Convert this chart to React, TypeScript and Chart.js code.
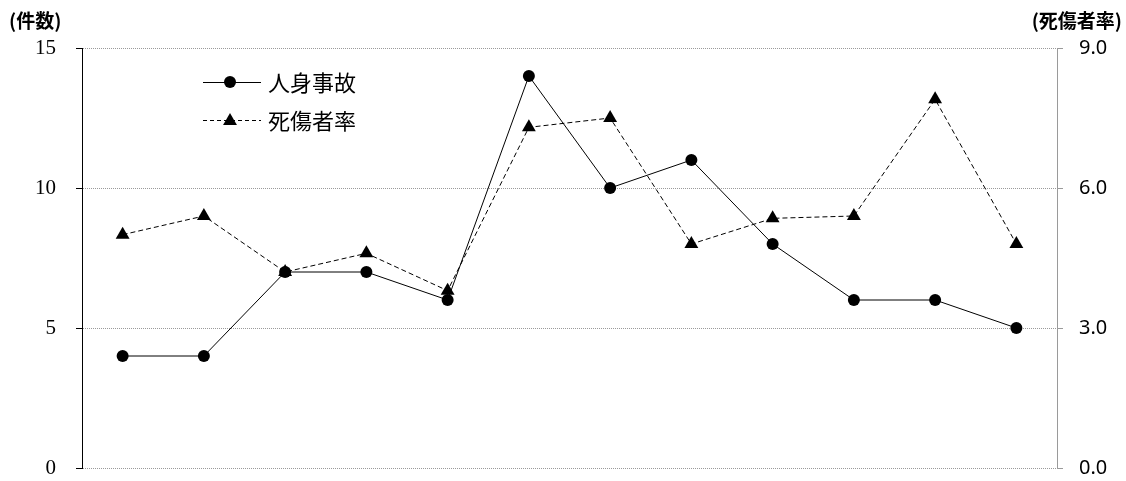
import React, { useEffect, useRef } from "react";
import { Chart, registerables } from "chart.js";

Chart.register(...registerables);

const categories = ["1", "2", "3", "4", "5", "6", "7", "8", "9", "10", "11", "12"];
const accidents = [4, 4, 7, 7, 6, 14, 10, 11, 8, 6, 6, 5];
const casualtyRate = [5.0, 5.4, 4.2, 4.6, 3.8, 7.3, 7.5, 4.8, 5.35, 5.4, 7.9, 4.8];
const seriesNames = ["人身事故", "死傷者率"];
const leftTitle = "(件数)";
const rightTitle = "(死傷者率)";

const overlayPlugin = {
  id: "overlay",
  afterDraw(chart: any) {
    const ctx = chart.ctx;
    ctx.save();
    // axis titles
    ctx.fillStyle = "#000";
    ctx.font = "bold 19px 'Noto Sans CJK JP'";
    ctx.textBaseline = "middle";
    ctx.textAlign = "left";
    ctx.fillText(leftTitle, 9, 21);
    ctx.textAlign = "right";
    ctx.fillText(rightTitle, 1122, 21);

    // legend
    const items = [
      { y: 82, dash: [] as number[], style: "circle", r: 6 },
      { y: 120, dash: [4, 3], style: "triangle", r: 8 },
    ];
    items.forEach((it, i) => {
      ctx.strokeStyle = "#000";
      ctx.lineWidth = 1;
      ctx.setLineDash(it.dash);
      ctx.beginPath();
      ctx.moveTo(203, it.y + 0.5);
      ctx.lineTo(261, it.y + 0.5);
      ctx.stroke();
      ctx.setLineDash([]);
      ctx.fillStyle = "#000";
      ctx.beginPath();
      if (it.style === "circle") {
        ctx.arc(230, it.y, it.r, 0, Math.PI * 2);
      } else {
        const r = it.r;
        const cx = 230;
        const cy = it.y + 1;
        ctx.moveTo(cx, cy - r);
        ctx.lineTo(cx + r * Math.sin(Math.PI / 3), cy + r * 0.5);
        ctx.lineTo(cx - r * Math.sin(Math.PI / 3), cy + r * 0.5);
        ctx.closePath();
      }
      ctx.fill();
      ctx.font = "22px 'Noto Sans CJK JP'";
      ctx.textAlign = "left";
      ctx.textBaseline = "middle";
      ctx.fillText(seriesNames[i], 268, it.y + 1);
    });
    ctx.restore();
  },
};

export default function App() {
  const ref = useRef<HTMLCanvasElement>(null);
  useEffect(() => {
    if (!ref.current) return;
    const chart = new Chart(ref.current, {
      type: "line",
      data: {
        labels: categories,
        datasets: [
          {
            label: seriesNames[0],
            data: accidents,
            yAxisID: "y",
            borderColor: "#000",
            backgroundColor: "#000",
            borderWidth: 1,
            pointStyle: "circle",
            pointRadius: 6,
            pointBackgroundColor: "#000",
            pointBorderColor: "#000",
            pointBorderWidth: 0,
            tension: 0,
            order: 1,
          },
          {
            label: seriesNames[1],
            data: casualtyRate,
            yAxisID: "y1",
            borderColor: "#000",
            backgroundColor: "#000",
            borderWidth: 1,
            borderDash: [5, 3],
            pointStyle: "triangle",
            pointRadius: 8,
            pointBackgroundColor: "#000",
            pointBorderColor: "#000",
            pointBorderWidth: 0,
            tension: 0,
            order: 2,
          },
        ],
      },
      options: {
        animation: false,
        responsive: true,
        maintainAspectRatio: false,
        layout: { padding: { top: 48, bottom: 13, left: 0, right: 0 } },
        plugins: { legend: { display: false }, tooltip: { enabled: false } },
        scales: {
          x: { display: false, offset: true, grid: { offset: true } },
          y: {
            position: "left",
            min: 0,
            max: 15,
            ticks: {
              stepSize: 5,
              color: "#000",
              padding: 20,
              font: { family: "'Liberation Serif'", size: 21 },
            },
            grid: {
              color: "#9a9a9a",
              lineWidth: 1,
              drawTicks: true,
              tickLength: 6,
              tickColor: "#000",
              tickBorderDash: [],
            },
            border: { display: true, color: "#000", width: 1, dash: [1, 1] },
            afterFit(scale: any) {
              scale.width = 82;
              scale.paddingTop = 0;
              scale.paddingBottom = 0;
            },
          },
          y1: {
            position: "right",
            min: 0,
            max: 9,
            ticks: {
              stepSize: 3,
              color: "#000",
              padding: 16,
              font: { family: "'Noto Sans'", size: 20 },
              callback: (v: any) => Number(v).toFixed(1),
            },
            grid: {
              drawOnChartArea: false,
              drawTicks: true,
              tickLength: 6,
              tickColor: "#9a9a9a",
            },
            border: { display: true, color: "#9a9a9a", width: 1 },
            afterFit(scale: any) {
              scale.width = 69;
              scale.paddingTop = 0;
              scale.paddingBottom = 0;
            },
          },
        },
      },
      plugins: [overlayPlugin],
    });
    return () => chart.destroy();
  }, []);
  return (
    <div style={{ position: "absolute", left: 0, top: 0, width: 1126, height: 481, background: "#fff" }}>
      <canvas ref={ref} />
    </div>
  );
}
